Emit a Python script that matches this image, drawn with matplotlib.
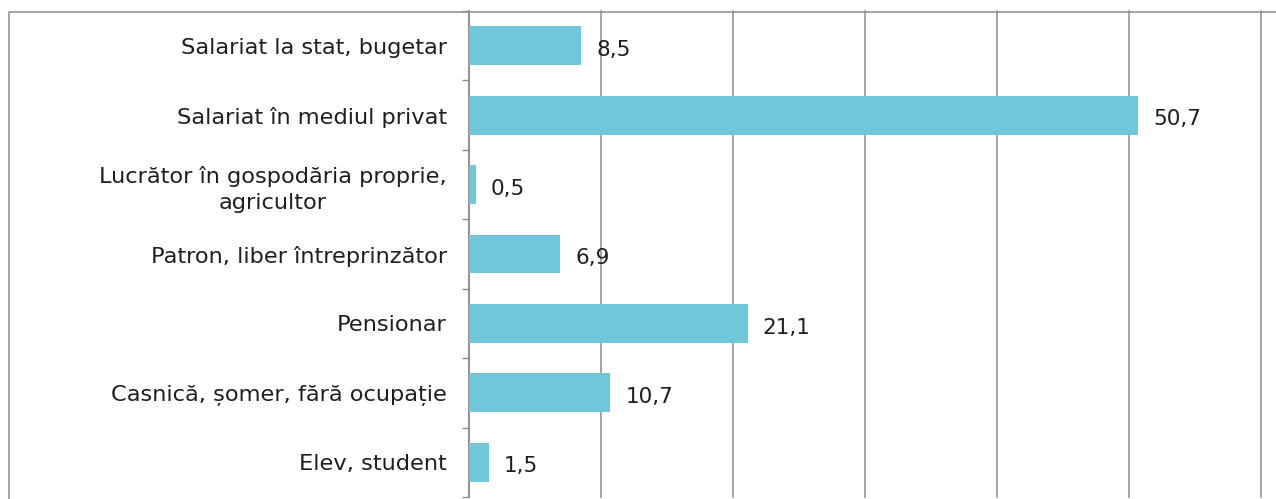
import matplotlib
matplotlib.use("Agg")
import matplotlib.pyplot as plt
from matplotlib.patches import Rectangle

plt.rcParams.update({
    "font.family": ["DejaVu Sans"],
    "font.size": 16.2,
})

BAR = "#71c6da"
GRID = "#8c8c8c"
INK = "#1e1e1e"

categories = [
    "Salariat la stat, bugetar",
    "Salariat în mediul privat",
    "Lucrător în gospodăria proprie,\nagricultor",
    "Patron, liber întreprinzător",
    "Pensionar",
    "Casnică, șomer, fără ocupație",
    "Elev, student",
]
values = [8.5, 50.7, 0.5, 6.9, 21.1, 10.7, 1.5]
value_labels = ["8,5", "50,7", "0,5", "6,9", "21,1", "10,7", "1,5"]

W, H = 1276, 499
fig = plt.figure(figsize=(W / 100, H / 100), dpi=100)
ax = fig.add_axes([469 / W, 2 / H, 792 / W, 486 / H])

pos = list(range(len(categories)))
ax.barh(pos, values, height=0.56, color=BAR, edgecolor="none", zorder=3)
ax.set_ylim(len(categories) - 0.5, -0.5)
ax.set_xlim(0, 60)

# value labels just past each bar end
for y, v, lab in zip(pos, values, value_labels):
    ax.annotate(lab, (v, y), xytext=(11, -3), textcoords="offset points",
                ha="left", va="center", fontsize=15.5, color=INK, zorder=4)

# category labels, centred multi-line like the spreadsheet original
ax.set_yticks(pos)
ax.set_yticklabels(categories, multialignment="center", color=INK,
                   linespacing=1.4)
ax.tick_params(axis="y", length=0, pad=16)
ax.set_yticks([p + 0.5 for p in [-1] + pos], minor=True)
ax.tick_params(axis="y", which="minor", length=5, width=1.0, color=GRID)

ax.set_xticks(range(0, 61, 10))
ax.tick_params(axis="x", length=0, labelbottom=False)
ax.xaxis.grid(True, color=GRID, lw=1.1, zorder=0)
ax.set_axisbelow(True)
for gl in ax.get_xgridlines():
    gl.set_clip_on(False)   # keep the 60 line whole at the axes edge

for s in ("top", "right", "bottom"):
    ax.spines[s].set_visible(False)
ax.spines["left"].set_color(GRID)
ax.spines["left"].set_linewidth(1.1)

# outer chart-area frame
fig.add_artist(Rectangle((9 / W, -0.2), 1.2, (H - 12) / H + 0.2,
                         transform=fig.transFigure, facecolor="none",
                         edgecolor=GRID, lw=1.1))

fig.savefig("out.png", dpi=100)
